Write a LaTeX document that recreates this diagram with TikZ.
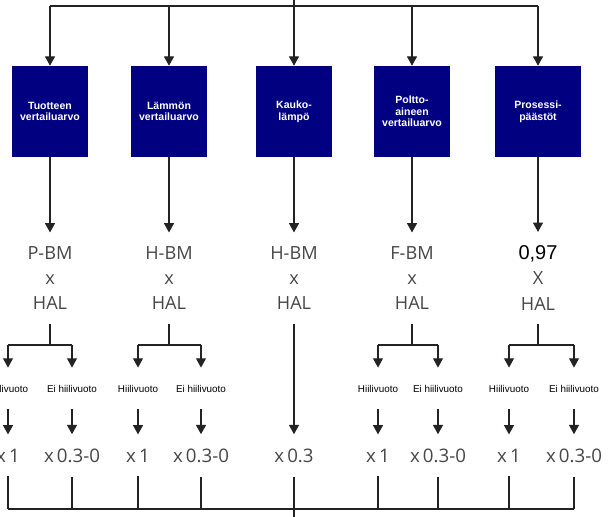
\documentclass[tikz,border=0pt]{standalone}
\usepackage{fontspec}
\setmainfont{Liberation Sans}
\newfontfamily\formfont{Open Sans}
\usetikzlibrary{arrows.meta}
\definecolor{boxblue}{RGB}{0,0,128}
\definecolor{formgray}{RGB}{70,70,70}
\definecolor{linegray}{RGB}{35,35,35}

\begin{document}
\begin{tikzpicture}
        [x=0.75pt,y=-0.75pt,
         line/.style={draw=linegray,line width=0.9pt},
         arr/.style={line,-{Triangle[width=7.5pt,length=7pt]}},
         valbox/.style={rectangle,fill=boxblue,minimum width=57pt,minimum height=68.25pt,
                        align=center,text=white,inner sep=0pt,
                        font=\bfseries\fontsize{7.9}{8.8}\selectfont},
         formula/.style={align=center,text=formgray,inner xsep=0pt,inner ysep=10pt,
                         font=\formfont\fontsize{13.6}{19.1}\selectfont},
         flowlabel/.style={anchor=base,inner xsep=1pt,inner ysep=12.75pt,
                           font=\fontsize{7.4}{9}\selectfont},
         factor/.style={anchor=base,text=formgray,inner xsep=0pt,inner ysep=10.5pt,
                        font=\formfont\fontsize{14}{16}\selectfont}]
        \useasboundingbox (0,0) rectangle (615,517);

        %Value boxes
        \node[valbox] (tuote)    at (50,111.5)  {Tuotteen\\vertailuarvo};
        \node[valbox] (lampo)    at (169,111.5) {Lämmön\\vertailuarvo};
        \node[valbox] (kauko)    at (294,111.5) {Kauko-\\lämpö};
        \node[valbox] (poltto)   at (412,111.5) {Poltto-\\aineen\\vertailuarvo};
        \node[valbox,minimum width=65pt] (prosessi) at (538,111.5) {Prosessi-\\päästöt};

        %Formulas
        \node[formula] (ftuote)    at (50,278)  {P-BM\\x\\HAL};
        \node[formula] (flampo)    at (169,278) {H-BM\\x\\HAL};
        \node[formula] (fkauko)    at (294,278) {H-BM\\x\\HAL};
        \node[formula] (fpoltto)   at (412,278) {F-BM\\x\\HAL};
        \node[formula] (fprosessi) at (538,278) {{\rmfamily\color{black}\fontsize{15}{19.1}\selectfont 0,97}\\X\\HAL};

        %Top split
        \coordinate (top)   at (294,0);
        \coordinate (split) at (294,6);
        \draw[line] (top) -- (split);
        \draw[line] (split -| tuote) -- (split -| prosessi);
        \foreach \b in {tuote,lampo,kauko,poltto,prosessi}
        {
            \draw[arr] (split -| \b) -- (\b);
            \draw[arr] (\b) -- (f\b);
        }

        %Carbon leakage branches
        \coordinate (fork) at (294,345);
        \foreach \c/\h/\e in {tuote/8/72,lampo/138/201,poltto/378/438,prosessi/509/574}
        {
            \node[flowlabel] (h\c)  at (\h,392) {Hiilivuoto};
            \node[flowlabel] (e\c)  at (\e,392) {Ei hiilivuoto};
            \node[factor]    (kh\c) at (\h,462) {x\,1};
            \node[factor]    (ke\c) at (\e,462) {x\,0.3-0};
            \draw[line] (f\c) -- (f\c |- fork);
            \draw[line] (h\c |- fork) -- (e\c |- fork);
            \draw[arr]  (h\c |- fork) -- (h\c);
            \draw[arr]  (e\c |- fork) -- (e\c);
            \draw[arr]  (h\c) -- (kh\c);
            \draw[arr]  (e\c) -- (ke\c);
        }
        \node[factor] (kkauko) at (294,462) {x\,0.3};
        \draw[arr] (fkauko) -- (kkauko);

        %Bottom join
        \coordinate (base)   at (294,509);
        \coordinate (bottom) at (294,517);
        \foreach \k in {khtuote,ketuote,khlampo,kelampo,khpoltto,kepoltto,khprosessi,keprosessi}
            \draw[line] (\k) -- (\k |- base);
        \draw[line] (khtuote |- base) -- (keprosessi |- base);
        \draw[line] (kkauko) -- (bottom);
\end{tikzpicture}
\end{document}
